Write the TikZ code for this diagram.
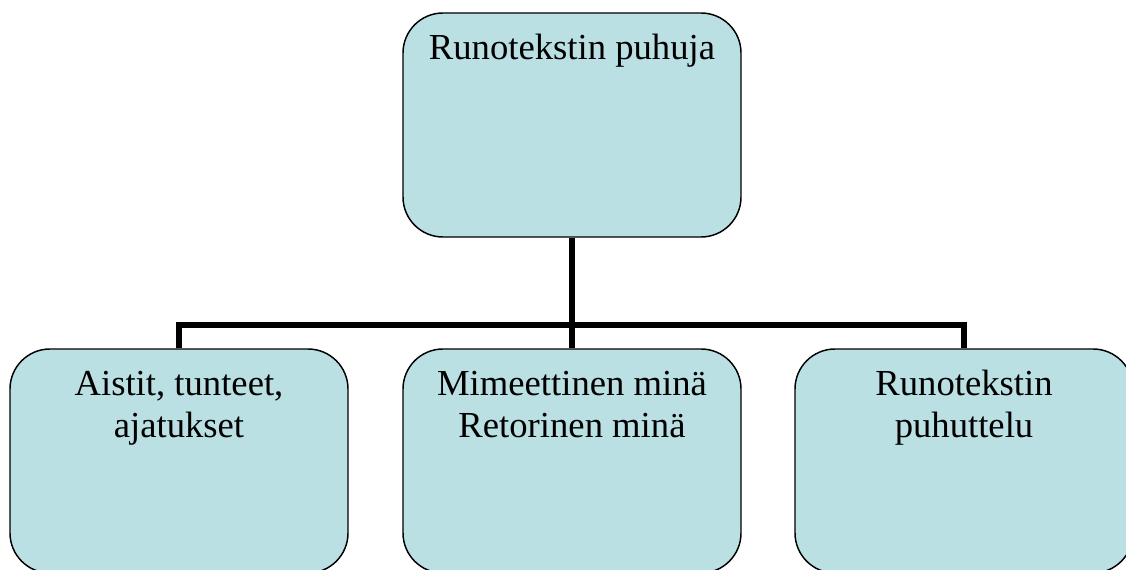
\documentclass[tikz,border=0pt]{standalone}
\usepackage{fontspec}
\setmainfont{Liberation Serif}
\definecolor{boxfill}{RGB}{187,224,227}
\tikzset{
  box/.style={draw=black, line width=1.1pt, fill=boxfill, rounded corners=30pt,
    inner sep=0pt, minimum width=253.5pt, minimum height=168pt},
  conn/.style={draw=black, line width=3.8pt},
}
\newcommand{\boxtext}[1]{\parbox[c][168pt][t]{240pt}{\centering\fontsize{27.5}{31}\selectfont\rule{0pt}{35pt}#1}}
\begin{document}
\begin{tikzpicture}[x=0.75pt,y=-0.75pt]
\useasboundingbox (0,0) rectangle (1126,570);
\clip (0,0) rectangle (1126,570);
\node[box] (top) at (572,125) {\boxtext{Runotekstin puhuja}};
\node[box] (left) at (179,461) {\boxtext{Aistit, tunteet,\\ajatukset}};
\node[box] (mid) at (572,461) {\boxtext{Mimeettinen minä\\Retorinen minä}};
\node[box] (right) at (964,461) {\boxtext{Runotekstin\\puhuttelu}};
\coordinate (j) at (572,325);
\draw[conn] (top.south) -- (mid.north);
\draw[conn] (left.north) |- (j);
\draw[conn] (right.north) |- (j);
\end{tikzpicture}
\end{document}
